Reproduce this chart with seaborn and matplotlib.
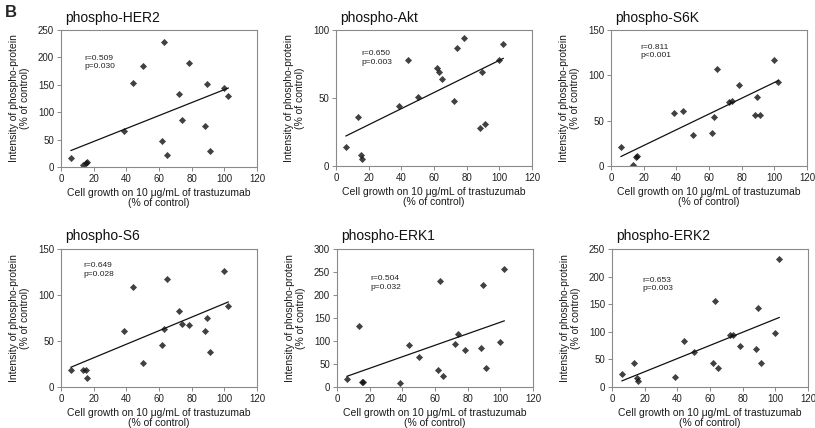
import numpy as np
import pandas as pd
import matplotlib
matplotlib.use("Agg")
import matplotlib.pyplot as plt
import seaborn as sns

# ---------------- data ----------------
growth = [6, 13.5, 15, 16, 38.5, 44, 50.5, 62, 63, 65, 72.5, 74, 78.5, 88, 89.5, 91, 100, 102.5]

her2 = [16, 3, 8, 10, 65, 153, 184, 47, 229, 22, 134, 86, 190, 75, 152, 29, 145, 129]
akt = [14, 36, 8, 5, 44, 78, 51, 72, 69, 64, 48, 87, 94, 28, 69, 31, 78, 90]
s6k = [21, 1, 10, 11, 58, 61, 34, 36, 54, 107, 71, 72, 89, 56, 76, 56, 117, 93]
s6 = [18, 18, 19, 10, 61, 109, 26, 46, 63, 117, 83, 69, 67, 61, 75, 38, 126, 88]
erk1 = [18, 133, 11, 10, 8, 92, 66, 38, 230, 23, 93, 115, 80, 84, 222, 42, 98, 257]
erk2 = [24, 44, 17, 10, 19, 83, 64, 44, 155, 34, 95, 95, 75, 68, 143, 44, 98, 232]

titles = ["phospho-HER2", "phospho-Akt", "phospho-S6K", "phospho-S6", "phospho-ERK1", "phospho-ERK2"]
r_labels = ["r=0.509", "r=0.650", "r=0.811", "r=0.649", "r=0.504", "r=0.653"]
p_labels = ["p=0.030", "p=0.003", "p<0.001", "p=0.028", "p=0.032", "p=0.003"]
y_max = [250, 100, 150, 150, 300, 250]
x_ticks = [0, 20, 40, 60, 80, 100, 120]

series = [her2, akt, s6k, s6, erk1, erk2]

# ---------------- style ----------------
sns.set_style("ticks")
plt.rcParams["font.family"] = ["Liberation Sans", "DejaVu Sans"]

W, H = 815, 428
fig = plt.figure(figsize=(W / 100, H / 100), dpi=100)

# axes boxes in pixels: (left, top, right, bottom)
boxes = [
    (61, 30, 257, 167), (336, 30, 532, 166), (611, 30, 807, 166),
    (61, 249, 257, 387), (337, 249, 533, 387), (612, 249, 808, 387),
]
text_pos = [(0.12, 0.82), (0.128, 0.85), (0.15, 0.90), (0.112, 0.905), (0.168, 0.81), (0.153, 0.80)]

spine_col = "#8a8a8a"
for i, (l, t, r, b) in enumerate(boxes):
    ax = fig.add_axes([l / W, 1 - b / H, (r - l) / W, (b - t) / H])
    df = pd.DataFrame({"x": growth, "y": series[i]})
    sns.regplot(data=df, x="x", y="y", ax=ax, ci=None, truncate=True,
                marker="D",
                scatter_kws=dict(s=13, color="#111111", linewidths=0),
                line_kws=dict(color="#111111", lw=0.9))
    ax.set_xlim(0, 120)
    ax.set_ylim(0, y_max[i])
    ax.set_xticks(x_ticks)
    ax.set_yticks(np.arange(0, y_max[i] + 1, 50))
    for s in ax.spines.values():
        s.set_visible(True)
        s.set_color(spine_col)
        s.set_linewidth(0.8)
    ax.tick_params(axis="both", labelsize=7, length=3, width=0.7, color=spine_col,
                   labelcolor="#222222", pad=2)
    ax.set_xlabel("Cell growth on 10 μg/mL of trastuzumab\n(% of control)",
                  fontsize=7.5, color="#1a1a1a", labelpad=3, linespacing=1.0)
    ax.set_ylabel("Intensity of phospho-protein\n(% of control)",
                  fontsize=7.5, color="#1a1a1a", labelpad=6, linespacing=1.05)
    ax.text(0.02, 1.04, titles[i], transform=ax.transAxes, fontsize=10,
            ha="left", va="bottom", color="#111111")
    tx, ty = text_pos[i]
    ax.text(tx, ty, r_labels[i] + "\n" + p_labels[i], transform=ax.transAxes,
            fontsize=6, ha="left", va="top", color="#222222", linespacing=1.35)

fig.text(5 / W, 1 - 5 / H, "B", fontsize=12, fontweight="bold", ha="left", va="top")

fig.savefig("out.png", dpi=100, facecolor="white")
